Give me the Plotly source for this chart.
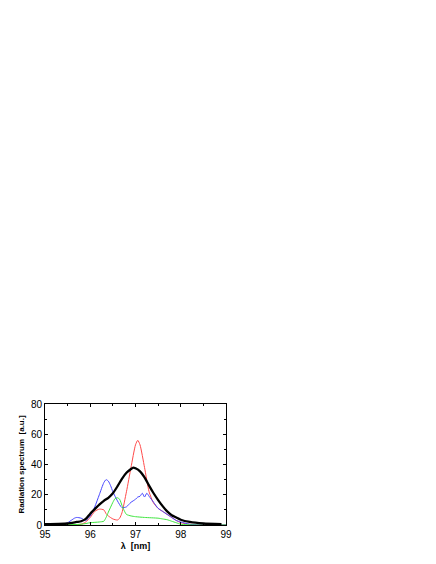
import plotly.graph_objects as go

# ── Datos ─────────────────────────────────────────────────────────────────────
wl_black = [95.0, 95.3, 95.5, 95.7, 95.8, 95.9, 96.0, 96.1, 96.2, 96.3, 96.4, 96.5,
            96.6, 96.7, 96.8, 96.9, 96.95, 97.0, 97.1, 97.2, 97.3, 97.4, 97.5, 97.6,
            97.7, 97.8, 97.9, 98.0, 98.2, 98.5, 98.9]
sp_black = [0.5, 0.7, 1.0, 2.0, 2.5, 4.0, 7.5, 10.5, 13.5, 16.0, 18.0, 21.0,
            25.5, 30.5, 34.5, 37.0, 38.0, 37.5, 35.5, 31.5, 26.0, 21.0, 16.5, 12.5,
            9.0, 6.5, 5.0, 3.5, 2.0, 1.0, 0.5]

wl_red = [95.0, 95.8, 95.9, 96.0, 96.1, 96.2, 96.3, 96.35, 96.4, 96.5, 96.6, 96.65,
          96.7, 96.8, 96.9, 97.0, 97.05, 97.1, 97.2, 97.3, 97.4, 97.5, 97.6, 97.7,
          97.8, 97.9, 98.0, 98.2, 98.5, 99.0]
sp_red = [0.0, 0.5, 2.0, 5.0, 9.0, 10.5, 10.0, 7.5, 6.0, 4.0, 3.3, 4.5,
          8.0, 22.0, 38.0, 53.0, 56.0, 53.0, 38.0, 22.0, 14.5, 11.0, 9.0, 7.0,
          5.0, 3.0, 1.5, 0.5, 0.0, 0.0]

wl_blue = [95.0, 95.4, 95.5, 95.6, 95.65, 95.7, 95.8, 95.9, 96.0, 96.1, 96.2, 96.3,
           96.35, 96.4, 96.45, 96.5, 96.6, 96.7, 96.8, 96.85, 96.9, 97.0, 97.05, 97.1,
           97.15, 97.2, 97.25, 97.3, 97.4, 97.5, 97.6, 97.7, 97.8, 97.9, 98.0, 98.2,
           98.5, 99.0]
sp_blue = [0.0, 0.5, 1.5, 3.5, 4.5, 5.0, 4.5, 3.0, 6.0, 12.0, 20.0, 28.0,
           30.0, 29.0, 26.0, 22.0, 16.0, 11.5, 12.0, 13.5, 15.0, 17.0, 18.5, 19.0,
           21.0, 18.5, 21.0, 19.0, 15.0, 11.0, 9.0, 7.0, 5.0, 3.0, 2.0, 0.5,
           0.0, 0.0]

wl_green = [95.0, 95.8, 96.0, 96.2, 96.3, 96.35, 96.4, 96.5, 96.55, 96.6, 96.65, 96.7,
            96.75, 96.8, 96.9, 97.0, 97.2, 97.5, 97.6, 97.7, 97.8, 97.9, 98.0, 98.3,
            99.0]
sp_green = [0.0, 0.5, 1.5, 2.0, 2.5, 5.0, 8.5, 15.0, 17.5, 18.0, 17.0, 13.0,
            9.5, 7.0, 6.0, 5.5, 5.0, 4.5, 4.0, 3.5, 2.5, 1.5, 0.5, 0.0,
            0.0]

x_ticks = [95, 96, 97, 98, 99]
y_ticks = [0, 20, 40, 60, 80]

# ── Figura ────────────────────────────────────────────────────────────────────
fig = go.Figure()

for wl, sp, color, width in [
    (wl_red, sp_red, "#ff4a4a", 1),
    (wl_blue, sp_blue, "#4646ff", 1),
    (wl_green, sp_green, "#3ee63e", 1),
    (wl_black, sp_black, "black", 2.3),
]:
    fig.add_trace(go.Scatter(
        x=wl, y=sp, mode="lines",
        line=dict(color=color, width=width, shape="spline", smoothing=0.6),
        showlegend=False, hoverinfo="skip",
    ))

eje = dict(
    showline=True, linecolor="black", linewidth=1, mirror="ticks",
    ticks="inside", ticklen=3, tickcolor="black",
    showgrid=False, zeroline=False,
    tickfont=dict(family="Liberation Sans, Arial", size=10, color="black"),
)

fig.update_xaxes(
    **eje, range=[95, 99], tickvals=x_ticks,
    minor=dict(ticks="inside", dtick=0.5, ticklen=2, tickcolor="black"),
    title=dict(text="<b>λ  [nm]</b>", standoff=3,
               font=dict(family="Liberation Sans, Arial", size=9, color="black")),
)
fig.update_yaxes(
    **eje, range=[0, 80], tickvals=y_ticks,
    minor=dict(ticks="inside", dtick=10, ticklen=2, tickcolor="black"),
    title=dict(text="<b>Radiation spectrum  [a.u.]</b>", standoff=5,
               font=dict(family="Liberation Sans, Arial", size=8, color="black")),
)

# la página tiene 8 px de margen en el body: se compensa aquí
fig.update_layout(
    width=436, height=564,
    margin=dict(l=29, r=218, t=396, b=47),
    paper_bgcolor="white", plot_bgcolor="white",
)

fig.write_html("out.html")
